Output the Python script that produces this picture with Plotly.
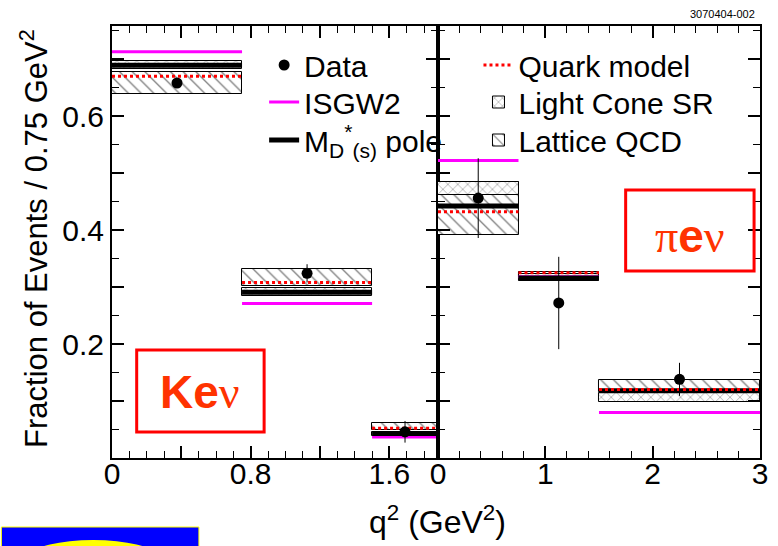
import plotly.graph_objects as go

# ---------------- data ----------------
K_lo = [0.0, 0.75, 1.5]
K_hi = [0.75, 1.5, 1.88]
K_x = [0.375, 1.125, 1.69]
K_data = [0.658, 0.324, 0.046]
K_err = [0.008, 0.016, 0.019]
K_isgw2 = [0.713, 0.271, 0.037]
K_pole = [0.689, 0.291, 0.043]
K_quark = [0.670, 0.308, 0.052]
K_lcsr_lo = [0.682, 0.285, 0.039]
K_lcsr_hi = [0.697, 0.298, 0.046]
K_lat_lo = [0.638, 0.302, 0.049]
K_lat_hi = [0.677, 0.331, 0.062]

P_lo = [0.0, 0.75, 1.5]
P_hi = [0.75, 1.5, 3.0]
P_x = [0.375, 1.125, 2.25]
P_data = [0.456, 0.272, 0.138]
P_err = [0.070, 0.081, 0.029]
P_isgw2 = [0.522, 0.318, 0.080]
P_pole = [0.442, 0.316, 0.118]
P_quark = [0.432, 0.325, 0.120]
P_lcsr_lo = [0.461, 0.311, 0.098]
P_lcsr_hi = [0.484, 0.322, 0.114]
P_lat_lo = [0.392, 0.318, 0.115]
P_lat_hi = [0.484, 0.326, 0.137]

K_ticks = [0, 0.4, 0.8, 1.2, 1.6]
K_ticktext = ["0", "", "0.8", "", "1.6"]
P_ticks = [0, 1, 2, 3]
P_ticktext = ["0", "1", "2", "3"]
Y_ticks = [0, 0.1, 0.2, 0.3, 0.4, 0.5, 0.6, 0.7]
Y_ticktext = ["", "", "0.2", "", "0.4", "", "0.6", ""]

W, H = 778, 546
ML, MR, MT, MB = 112, 10, 26, 88
PW, PH = W - ML - MR, H - MT - MB


def pxx(p):
    return (p - ML) / PW


def pxy(p):
    return 1 - (p - MT) / PH


def seg(lo, hi, v):
    xs, ys = [], []
    for a, b, c in zip(lo, hi, v):
        xs += [a, b, None]
        ys += [c, c, None]
    return xs, ys


fig = go.Figure()

panels = [
    ("x", "y", K_lo, K_hi, K_x, K_data, K_err, K_isgw2, K_pole, K_quark,
     K_lcsr_lo, K_lcsr_hi, K_lat_lo, K_lat_hi, True),
    ("x2", "y2", P_lo, P_hi, P_x, P_data, P_err, P_isgw2, P_pole, P_quark,
     P_lcsr_lo, P_lcsr_hi, P_lat_lo, P_lat_hi, False),
]

for (xa, ya, lo, hi, xc, dat, err, isg, pole, quark, llo, lhi, tlo, thi, show) in panels:
    cen = [(a + b) / 2 for a, b in zip(lo, hi)]
    wid = [b - a for a, b in zip(lo, hi)]
    fig.add_trace(go.Bar(
        x=cen, width=wid, base=tlo, y=[b - a for a, b in zip(tlo, thi)],
        xaxis=xa, yaxis=ya, name="Lattice QCD", legend="legend6",
        legendgroup="lat", showlegend=show,
        marker=dict(color="white", line=dict(color="black", width=1),
                    pattern=dict(shape="\\", fgcolor="black", bgcolor="white",
                                 size=9, solidity=0.15)),
    ))
    fig.add_trace(go.Bar(
        x=cen, width=wid, base=llo, y=[b - a for a, b in zip(llo, lhi)],
        xaxis=xa, yaxis=ya, name="Light Cone SR", legend="legend5",
        legendgroup="lcsr", showlegend=show,
        marker=dict(color="white", line=dict(color="black", width=1),
                    pattern=dict(shape="x", fgcolor="black", bgcolor="white",
                                 size=7, solidity=0.15)),
    ))
    xs, ys = seg(lo, hi, isg)
    fig.add_trace(go.Scatter(x=xs, y=ys, mode="lines", xaxis=xa, yaxis=ya,
                             name="ISGW2", legend="legend2", legendgroup="isgw",
                             showlegend=show,
                             line=dict(color="#FF00FF", width=3)))
    xs, ys = seg(lo, hi, pole)
    fig.add_trace(go.Scatter(x=xs, y=ys, mode="lines", xaxis=xa, yaxis=ya,
                             name="M<sub>D</sub><sup>*</sup><sub>(s)</sub> pole",
                             legend="legend3", legendgroup="pole", showlegend=show,
                             line=dict(color="black", width=5)))
    xs, ys = seg(lo, hi, quark)
    fig.add_trace(go.Scatter(x=xs, y=ys, mode="lines", xaxis=xa, yaxis=ya,
                             name="Quark model", legend="legend4",
                             legendgroup="quark", showlegend=show,
                             line=dict(color="#FF0000", width=3, dash="dot")))
    fig.add_trace(go.Scatter(x=xc, y=dat, mode="markers", xaxis=xa, yaxis=ya,
                             name="Data", legend="legend", legendgroup="data",
                             showlegend=show,
                             marker=dict(color="black", size=11),
                             error_y=dict(type="data", array=err, color="black",
                                          thickness=1, width=0)))

axis_common = dict(showline=True, linecolor="black", linewidth=2, mirror="ticks",
                   ticks="inside", tickcolor="black", tickwidth=1.5,
                   showgrid=False, zeroline=False, tickmode="array",
                   tickfont=dict(family="Liberation Sans", size=30, color="black"))


def leg(xpix, ypix):
    return dict(x=pxx(xpix), y=pxy(ypix), xanchor="left", yanchor="middle",
                bgcolor="rgba(0,0,0,0)", font=dict(size=30, color="black"),
                tracegroupgap=0, itemwidth=30)


fig.update_layout(
    width=W, height=H,
    margin=dict(l=ML, r=MR, t=MT, b=MB),
    plot_bgcolor="white", paper_bgcolor="white",
    barmode="overlay", bargap=0,
    font=dict(family="Liberation Sans", color="black"),
    xaxis=dict(domain=[0, 330 / PW], range=[0, 1.88], anchor="y",
               tickvals=K_ticks, ticktext=K_ticktext, ticklabelstandoff=-12,
               ticklen=12, minor=dict(dtick=0.1, ticks="inside", ticklen=7,
                                      tickcolor="black", tickwidth=1, showgrid=False),
               **axis_common),
    xaxis2=dict(domain=[330 / PW, 1], range=[0, 3], anchor="y2",
                tickvals=P_ticks, ticktext=P_ticktext, ticklabelstandoff=-12,
                ticklen=12, minor=dict(dtick=0.2, ticks="inside", ticklen=7,
                                       tickcolor="black", tickwidth=1, showgrid=False),
                **axis_common),
    yaxis=dict(range=[0, 0.758], anchor="x",
               tickvals=Y_ticks, ticktext=Y_ticktext,
               ticklen=12, minor=dict(dtick=0.05, ticks="inside", ticklen=7,
                                      tickcolor="black", tickwidth=1, showgrid=False),
               **axis_common),
    yaxis2=dict(range=[0, 0.758], anchor="x2", matches="y", showticklabels=False,
                tickvals=Y_ticks,
                ticklen=12, minor=dict(dtick=0.05, ticks="inside", ticklen=7,
                                       tickcolor="black", tickwidth=1, showgrid=False),
                **axis_common),
    legend=leg(266, 65),
    legend2=leg(266, 102),
    legend3=leg(266, 140),
    legend4=leg(483, 65),
    legend5=leg(483, 102),
    legend6=leg(483, 140),
)

shapes = [
    dict(type="rect", xref="paper", yref="paper", x0=pxx(137), x1=pxx(266),
         y0=pxy(350), y1=pxy(432), line=dict(color="#FF0000", width=3)),
    dict(type="rect", xref="paper", yref="paper", x0=pxx(632), x1=pxx(762),
         y0=pxy(190), y1=pxy(271), line=dict(color="#FF0000", width=3)),
    dict(type="rect", xref="paper", yref="paper", x0=pxx(0), x1=pxx(200),
         y0=pxy(527), y1=pxy(550), fillcolor="#0000FF",
         line=dict(color="#FFFF00", width=1)),
    dict(type="circle", xref="paper", yref="paper", x0=pxx(31), x1=pxx(155),
         y0=pxy(540), y1=pxy(570), fillcolor="#FFFF00", line=dict(width=0)),
]
fig.update_layout(shapes=shapes)

greek = 'font-family:Liberation Serif;font-weight:normal'
annotations = [
    dict(text="q<sup>2</sup> (GeV<sup>2</sup>)", x=pxx(442), y=pxy(520),
         xanchor="center", yanchor="middle",
         xref="paper", yref="paper", showarrow=False,
         font=dict(size=32, color="black")),
    dict(text="Fraction of Events / 0.75 GeV<sup>2</sup>", x=pxx(33), y=pxy(238),
         xanchor="center", yanchor="middle",
         xref="paper", yref="paper", showarrow=False, textangle=-90,
         font=dict(size=31, color="black")),
    dict(text='<b>Ke</b><span style="%s">ν</span>' % greek, x=pxx(201), y=pxy(392),
         xanchor="center", yanchor="middle",
         xref="paper", yref="paper", showarrow=False,
         font=dict(size=46, color="#FF3300")),
    dict(text='<span style="%s">π</span><b>e</b><span style="%s">ν</span>' % (greek, greek),
         x=pxx(697), y=pxy(236), xanchor="center", yanchor="middle",
         xref="paper", yref="paper", showarrow=False,
         font=dict(size=46, color="#FF3300")),
    dict(text="3070404-002", x=pxx(730), y=pxy(14), xanchor="center", yanchor="middle",
         xref="paper", yref="paper",
         showarrow=False, font=dict(size=11, color="black")),
]
fig.update_layout(annotations=annotations)

fig.write_html("out.html")
